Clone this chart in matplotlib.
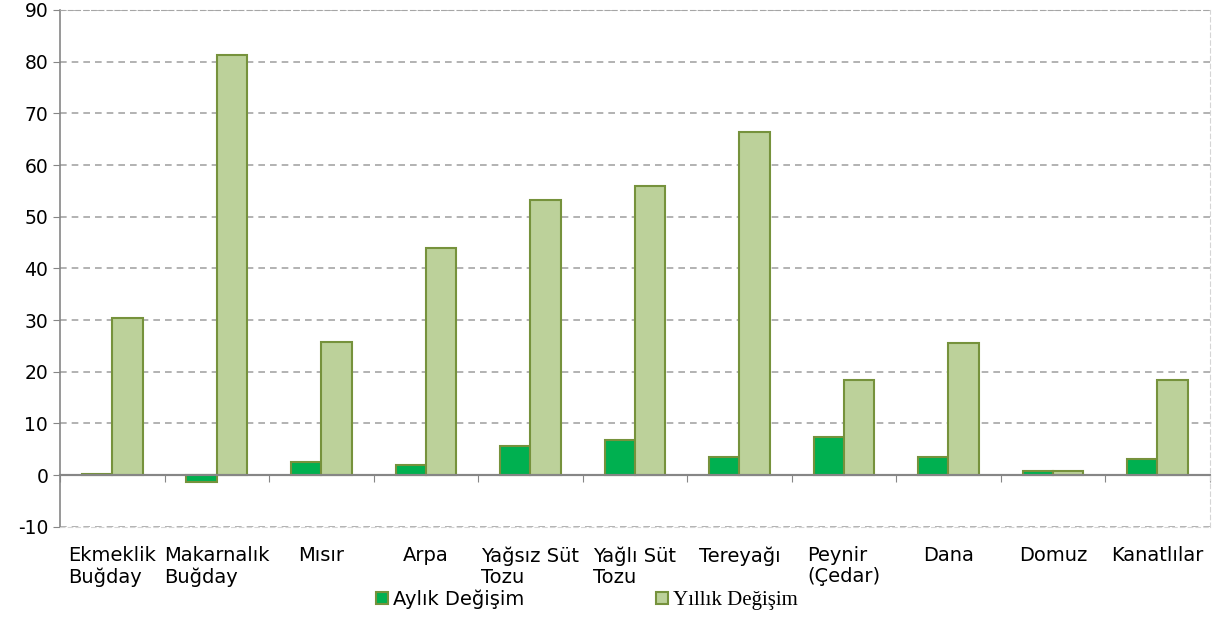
import matplotlib.pyplot as plt
import numpy as np

plt.rcParams["axes.unicode_minus"] = False
plt.rcParams["font.family"] = ["DejaVu Sans"]

categories = ["Ekmeklik\nBuğday", "Makarnalık\nBuğday", "Mısır", "Arpa", "Yağsız Süt\nTozu",
              "Yağlı Süt\nTozu", "Tereyağı", "Peynir\n(Çedar)", "Dana", "Domuz", "Kanatlılar"]
aylik = [0.3, -1.3, 2.5, 2.0, 5.7, 6.8, 3.5, 7.4, 3.5, 0.7, 3.2]
yillik = [30.4, 81.2, 25.8, 44.0, 53.2, 56.0, 66.3, 18.4, 25.5, 0.7, 18.4]

fig = plt.figure(figsize=(12.28, 6.44), dpi=100)
ax = fig.add_axes([0.0489, 0.182, 0.9361, 0.8025])

x = np.arange(len(categories))
w = 0.29
edge = "#76923C"
ax.bar(x - w / 2, aylik, w, color="#00B050", edgecolor=edge, linewidth=1.5, label="Aylık Değişim", zorder=3)
ax.bar(x + w / 2, yillik, w, color="#BCD19A", edgecolor=edge, linewidth=1.5, label="Yıllık Değişim", zorder=3)

ax.set_xlim(-0.5, len(categories) - 0.5)
ax.set_ylim(-10, 90)
ax.set_yticks(range(-10, 91, 10))
ax.grid(axis="y", color="#A6A6A6", linestyle=(0, (4, 3)), linewidth=1.2)
ax.set_axisbelow(True)

ax.spines["top"].set_color("#A6A6A6")
ax.spines["top"].set_linestyle((0, (4, 3)))
for s in ["right", "bottom"]:
    ax.spines[s].set_color("#D5D5D5")
    ax.spines[s].set_linestyle((0, (4, 3)))
ax.spines["left"].set_color("#868686")
ax.spines["left"].set_linewidth(1.2)
ax.tick_params(axis="y", direction="out", length=5, color="#868686", labelsize=13.5)

ax.set_xticks(x)
ax.set_xticklabels(categories, fontsize=14, ma="left", va="top", linespacing=1.15)
ax.tick_params(axis="x", length=0, pad=14)

# zero line with category separator ticks
ax.axhline(0, color="#868686", linewidth=1.5, zorder=4)
sec = ax.secondary_xaxis(0.1)
sec.set_xticks(np.arange(len(categories) + 1) - 0.5)
sec.tick_params(axis="x", direction="out", length=5, color="#868686", labelbottom=False)
sec.spines["bottom"].set_color("#868686")
sec.spines["bottom"].set_linewidth(1.5)

leg = fig.legend(loc="center", bbox_to_anchor=(0.478, 0.069), ncol=2, frameon=False,
                 fontsize=14, handlelength=0.6, handleheight=0.6, handletextpad=0.25,
                 columnspacing=6.8)
texts = leg.get_texts()
texts[1].set_fontfamily("Liberation Serif")
texts[1].set_fontsize(15)

fig.savefig("out.png", dpi=100)
